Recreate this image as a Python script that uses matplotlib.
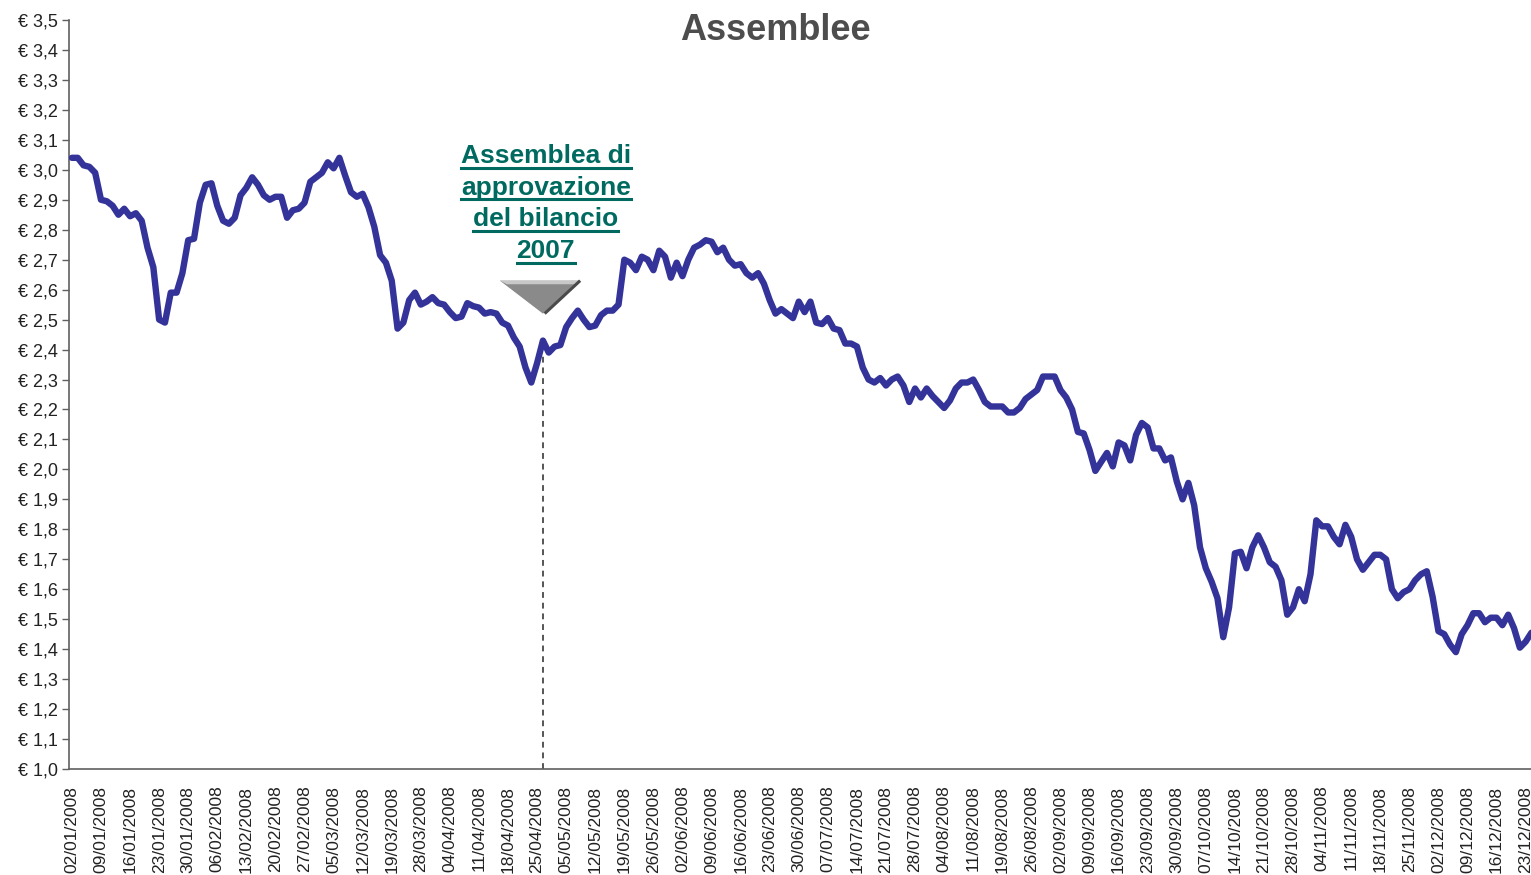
import matplotlib
matplotlib.use("Agg")
import matplotlib.pyplot as plt
import numpy as np
import pandas as pd
from matplotlib.patches import Polygon
from matplotlib.lines import Line2D

plt.rcParams['font.family'] = ['Liberation Sans', 'DejaVu Sans']

# trading calendar (Borsa Italiana 2008)
holidays = ['2008-03-21', '2008-03-24', '2008-05-01', '2008-08-15',
            '2008-12-25', '2008-12-26']
days = pd.bdate_range('2008-01-02', '2008-12-30')
days = days[~days.isin(pd.to_datetime(holidays))]
day_labels = [d.strftime('%d/%m/%Y') for d in days]

# closing prices (EUR), one per trading day
prices = [
    3.04, 3.04, 3.015, 3.01, 2.99, 2.90, 2.895, 2.88, 2.85, 2.87,
    2.845, 2.855, 2.83, 2.74, 2.675, 2.50, 2.49, 2.59, 2.59, 2.655,
    2.765, 2.77, 2.89, 2.95, 2.955, 2.88, 2.83, 2.82, 2.84, 2.915,
    2.94, 2.975, 2.95, 2.915, 2.90, 2.91, 2.91, 2.84, 2.865, 2.87,
    2.89, 2.96, 2.975, 2.99, 3.025, 3.005, 3.04, 2.98, 2.925, 2.91,
    2.92, 2.875, 2.81, 2.715, 2.69, 2.63, 2.47, 2.49, 2.565, 2.59,
    2.55, 2.56, 2.575, 2.555, 2.55, 2.525, 2.505, 2.51, 2.555, 2.545,
    2.54, 2.52, 2.525, 2.52, 2.49, 2.48, 2.44, 2.41, 2.34, 2.29,
    2.355, 2.43, 2.39, 2.41, 2.415, 2.475, 2.505, 2.53, 2.50, 2.475,
    2.48, 2.515, 2.53, 2.53, 2.55, 2.70, 2.69, 2.665, 2.71, 2.70,
    2.665, 2.73, 2.71, 2.64, 2.69, 2.645, 2.70, 2.74, 2.75, 2.765,
    2.76, 2.725, 2.74, 2.70, 2.68, 2.685, 2.655, 2.64, 2.655, 2.62,
    2.565, 2.52, 2.535, 2.52, 2.505, 2.56, 2.525, 2.56, 2.49, 2.485,
    2.505, 2.47, 2.465, 2.42, 2.42, 2.41, 2.34, 2.30, 2.29, 2.305,
    2.28, 2.30, 2.31, 2.28, 2.225, 2.27, 2.24, 2.27, 2.245, 2.225,
    2.205, 2.23, 2.27, 2.29, 2.29, 2.30, 2.265, 2.225, 2.21, 2.21,
    2.21, 2.19, 2.19, 2.205, 2.235, 2.25, 2.265, 2.31, 2.31, 2.31,
    2.265, 2.24, 2.20, 2.125, 2.12, 2.065, 1.995, 2.025, 2.055, 2.01,
    2.09, 2.08, 2.03, 2.115, 2.155, 2.14, 2.07, 2.07, 2.03, 2.04,
    1.96, 1.90, 1.955, 1.88, 1.74, 1.67, 1.625, 1.57, 1.44, 1.54,
    1.72, 1.725, 1.67, 1.74, 1.78, 1.74, 1.69, 1.675, 1.63, 1.515,
    1.54, 1.60, 1.56, 1.65, 1.83, 1.81, 1.81, 1.775, 1.75, 1.815,
    1.775, 1.70, 1.665, 1.69, 1.715, 1.715, 1.70, 1.60, 1.57, 1.59,
    1.60, 1.63, 1.65, 1.66, 1.575, 1.46, 1.45, 1.415, 1.39, 1.45,
    1.48, 1.52, 1.52, 1.49, 1.505, 1.505, 1.48, 1.515, 1.47, 1.405,
    1.425, 1.455,
]

event_date = '28/04/2008'
event_text = ['Assemblea di', 'approvazione', 'del bilancio', '2007']
title = 'Assemblee'

y_ticks = np.round(np.arange(1.0, 3.51, 0.1), 1)

W, H = 1531, 875
fig = plt.figure(figsize=(W / 100, H / 100), dpi=100)
ax = fig.add_axes([69 / W, 106 / H, 1477 / W, 749 / H])

x = np.arange(len(prices))
ax.plot(x, prices, color='#333399', lw=4.6, solid_joinstyle='round',
        solid_capstyle='round', zorder=3)

ax.set_xlim(-0.5, len(days) - 0.5)
ax.set_ylim(1.0, 3.5)
ax.set_yticks(y_ticks)
ax.set_yticklabels(['€ ' + f'{v:.1f}'.replace('.', ',') for v in y_ticks])
ax.set_xticks(np.arange(0, len(days), 5))
ax.set_xticklabels(day_labels[::5], rotation=90)
ax.tick_params(axis='y', length=5, width=1, color='#606060', labelsize=13,
               labelcolor='#222222', pad=3)
ax.tick_params(axis='x', length=0, labelsize=12.5, labelcolor='#222222', pad=12)
for side in ['top', 'right']:
    ax.spines[side].set_visible(False)
for side in ['left', 'bottom']:
    ax.spines[side].set_color('#606060')
    ax.spines[side].set_linewidth(1.2)

# event marker
ev = day_labels.index(event_date)
ax.plot([ev, ev], [1.0, prices[ev] - 0.05], ls=(0, (3, 2.5)), color='#555555',
        lw=1.4, zorder=2)
tri_top, tri_tip = 2.63, 2.52
ax.add_patch(Polygon([[ev - 7.4, tri_top], [ev + 6.4, tri_top], [ev, tri_tip]],
                     closed=True, facecolor='#8a8a8a', edgecolor='none', zorder=4))
ax.add_patch(Polygon([[ev - 7.4, tri_top], [ev + 6.4, tri_top],
                      [ev + 5.6, tri_top - 0.012], [ev - 6.2, tri_top - 0.012]],
                     closed=True, facecolor='#c8c8c8', edgecolor='none', zorder=5))
ax.plot([ev + 6.4, ev + 0.3], [tri_top, tri_tip], color='#4a4a4a', lw=2.2,
        solid_capstyle='butt', zorder=5)

texts = []
base = 3.022
for k, line in enumerate(event_text):
    t = ax.text(ev + 0.5, base - k * 0.1055, line, ha='center', va='baseline',
                fontsize=19, fontweight='bold', color='#006A60', zorder=6)
    texts.append(t)

fig.text(775 / W, 1 - 31 / H, title, ha='center', va='center', fontsize=26,
         fontweight='bold', color='#4D4D4D')

# underline each annotation line
fig.canvas.draw()
renderer = fig.canvas.get_renderer()
for t in texts:
    bb = t.get_window_extent(renderer)
    yb = ax.transData.transform(t.get_position())[1] - 4.5
    fig.add_artist(Line2D([bb.x0 / W, bb.x1 / W], [yb / H, yb / H],
                          transform=fig.transFigure, color='#006A60', lw=2.2))

fig.savefig('out.png', dpi=100)
